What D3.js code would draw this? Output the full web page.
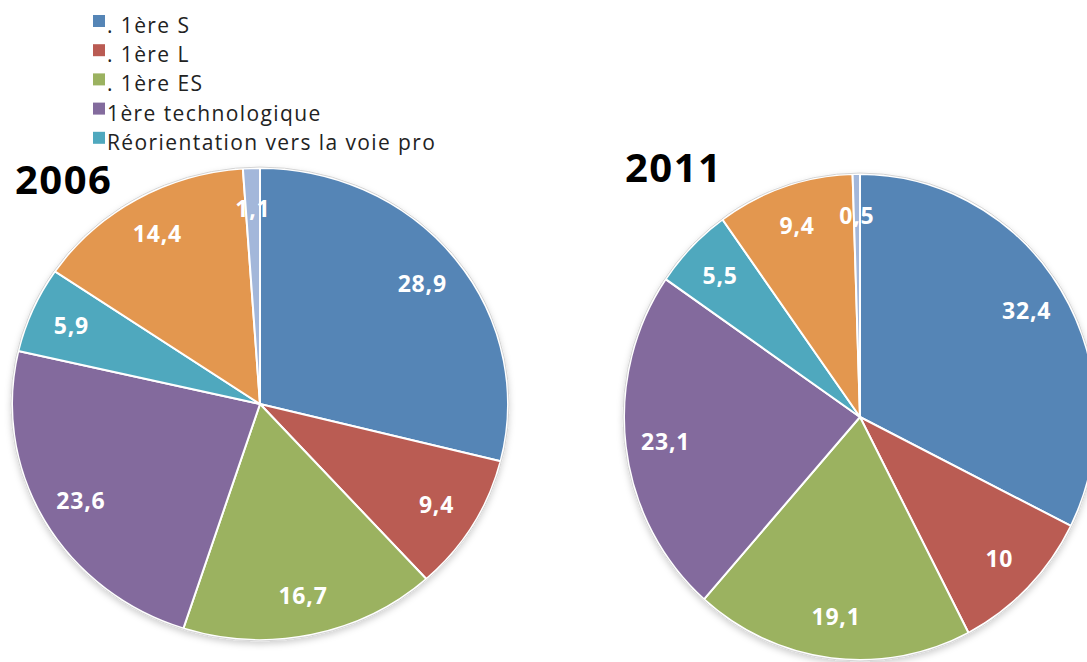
<!DOCTYPE html>
<html>
<head>
<meta charset="utf-8">
<script src="https://cdn.jsdelivr.net/npm/d3@7"></script>
<style>
  body { margin: 0; background: #fff; }
  svg { display: block; font-family: "Open Sans", sans-serif; }
</style>
</head>
<body>
<svg id="chart"></svg>
<script>
const width = 1087;
const height = 662;

// legend entries (only the first five series are listed)
const categories = ['. 1ère S', '. 1ère L', '. 1ère ES', '1ère technologique', 'Réorientation vers la voie pro'];
const colors = ['#5585b6', '#ba5b53', '#9bb260', '#836b9d', '#4fa8be', '#e3974f', '#a3b7da'];

const years = ['2006', '2011'];
const values2006 = [28.9, 9.4, 16.7, 23.6, 5.9, 14.4, 1.1];
const values2011 = [32.4, 10, 19.1, 23.1, 5.5, 9.4, 0.5];

const svg = d3.select('#chart')
  .attr('width', width)
  .attr('height', height);

const defs = svg.append('defs');
const shadow = defs.append('filter')
  .attr('id', 'shadow')
  .attr('x', '-10%').attr('y', '-10%')
  .attr('width', '120%').attr('height', '125%');
shadow.append('feDropShadow')
  .attr('dx', 0).attr('dy', 3)
  .attr('stdDeviation', 3)
  .attr('flood-color', '#000')
  .attr('flood-opacity', 0.18);

// legend
const legend = svg.append('g').attr('transform', 'translate(93, 15)');
const rows = legend.selectAll('g')
  .data(categories)
  .enter()
  .append('g')
  .attr('transform', (d, i) => `translate(0, ${i * 29.2})`);
rows.append('rect')
  .attr('width', 12)
  .attr('height', 12)
  .attr('fill', (d, i) => colors[i]);
rows.append('text')
  .attr('x', 14)
  .attr('y', 18)
  .attr('font-size', 21)
  .attr('letter-spacing', 1.4)
  .attr('fill', '#222')
  .text(d => d);

const R = 240;
const pie = d3.pie().sort(null).value(d => d);
const arc = d3.arc().innerRadius(0).outerRadius(R);
const labelArc = d3.arc().innerRadius(R * 0.83).outerRadius(R * 0.83);

const pies = [
  {year: years[0], values: values2006, cx: 260, cy: 404, rx: 248, ry: 236, tx: 15, ty: 194},
  {year: years[1], values: values2011, cx: 860, cy: 417, rx: 236, ry: 243, tx: 625, ty: 182}
];

pies.forEach(p => {
  const sx = p.rx / R;
  const sy = p.ry / R;
  const g = svg.append('g')
    .attr('transform', `translate(${p.cx}, ${p.cy})`);

  const slices = g.append('g')
    .attr('transform', `scale(${sx}, ${sy})`)
    .attr('filter', 'url(#shadow)');

  slices.selectAll('path')
    .data(pie(p.values))
    .enter()
    .append('path')
    .attr('d', arc)
    .attr('fill', (d, i) => colors[i])
    .attr('stroke', '#fff')
    .attr('stroke-width', 2)
    .attr('vector-effect', 'non-scaling-stroke');

  slices.append('circle')
    .attr('r', R + 1)
    .attr('fill', 'none')
    .attr('stroke', '#d4d4d4')
    .attr('stroke-width', 1)
    .attr('vector-effect', 'non-scaling-stroke');

  g.selectAll('text')
    .data(pie(p.values))
    .enter()
    .append('text')
    .attr('x', d => labelArc.centroid(d)[0] * sx)
    .attr('y', d => labelArc.centroid(d)[1] * sy)
    .attr('dy', '0.36em')
    .attr('text-anchor', 'middle')
    .attr('font-size', 23)
    .attr('font-weight', 700)
    .attr('letter-spacing', 0.8)
    .attr('fill', '#fff')
    .text(d => String(d.data).replace('.', ','));

  svg.append('text')
    .attr('x', p.tx)
    .attr('y', p.ty)
    .attr('font-size', 40)
    .attr('font-weight', 700)
    .attr('letter-spacing', 1.5)
    .attr('fill', '#000')
    .text(p.year);
});
</script>
</body>
</html>
